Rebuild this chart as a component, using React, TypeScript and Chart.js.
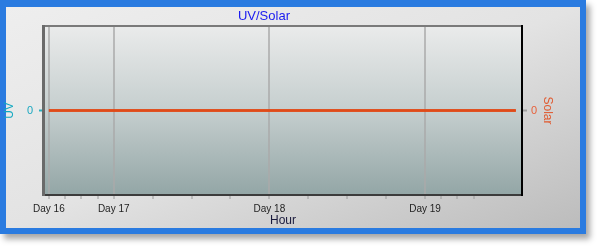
import React, { useEffect, useRef } from "react";
import { Chart, registerables } from "chart.js";

Chart.register(...registerables);

// Data (hours on a continuous time axis)
const chartTitle = "UV/Solar";
const dayTickHours = [14, 24, 48, 72];
const dayTickLabels = ["Day 16", "Day 17", "Day 18", "Day 19"];
const minorTickHours = [16.5, 19, 21.5, 30, 36, 42, 54, 60, 66, 74.5, 77, 79.5];
const sampleHours = [14, 24, 36, 48, 60, 72, 86];
const uvValues = [0, 0, 0, 0, 0, 0, 0];
const solarValues = [0, 0, 0, 0, 0, 0, 0];
const yTickValues = [0];

const FONT = "'Liberation Sans', Arial, sans-serif";

const plotPlugin = {
  id: "plotDecor",
  beforeDraw(chart: any) {
    const { ctx, chartArea: a } = chart;
    const g = ctx.createLinearGradient(0, a.top, 0, a.bottom);
    g.addColorStop(0, "#eaebeb");
    g.addColorStop(0.5, "#c5cece");
    g.addColorStop(1, "#93a6a6");
    ctx.save();
    ctx.fillStyle = g;
    ctx.fillRect(a.left, a.top, a.right - a.left, a.bottom - a.top);
    ctx.restore();
  },
  afterDraw(chart: any) {
    const { ctx, chartArea: a } = chart;
    ctx.save();
    ctx.lineWidth = 2;
    // top
    ctx.strokeStyle = "#7a7a7a";
    ctx.beginPath();
    ctx.moveTo(a.left - 2, a.top);
    ctx.lineTo(a.right + 2, a.top);
    ctx.stroke();
    // bottom
    ctx.strokeStyle = "#3c3c3c";
    ctx.beginPath();
    ctx.moveTo(a.left - 2, a.bottom);
    ctx.lineTo(a.right + 2, a.bottom);
    ctx.stroke();
    // left
    ctx.strokeStyle = "#6a6a6a";
    ctx.lineWidth = 3;
    ctx.beginPath();
    ctx.moveTo(a.left - 1.5, a.top - 1);
    ctx.lineTo(a.left - 1.5, a.bottom + 1);
    ctx.stroke();
    // right
    ctx.strokeStyle = "#000000";
    ctx.lineWidth = 2;
    ctx.beginPath();
    ctx.moveTo(a.right + 1, a.top - 1);
    ctx.lineTo(a.right + 1, a.bottom + 1);
    ctx.stroke();
    // title
    ctx.fillStyle = "#1a1af0";
    ctx.font = `13px ${FONT}`;
    ctx.textAlign = "center";
    ctx.textBaseline = "middle";
    ctx.fillText(chartTitle, a.left + (a.right - a.left) * 0.46, a.top - 10);
    ctx.restore();
  },
};

export default function App() {
  const ref = useRef<HTMLCanvasElement | null>(null);

  useEffect(() => {
    if (!ref.current) return;
    const chart = new Chart(ref.current, {
      type: "line",
      data: {
        datasets: [
          {
            label: "Solar",
            data: sampleHours.map((h, i) => ({ x: h, y: solarValues[i] })),
            yAxisID: "y2",
            borderColor: "#e04a18",
            borderWidth: 2.5,
            pointRadius: 0,
            order: 0,
          },
          {
            label: "UV",
            data: sampleHours.map((h, i) => ({ x: h, y: uvValues[i] })),
            yAxisID: "y",
            borderColor: "#e04a18",
            borderWidth: 2.5,
            pointRadius: 0,
            order: 1,
          },
        ],
      },
      options: {
        animation: false,
        responsive: false,
        devicePixelRatio: 1,
        layout: { padding: { left: 0, right: 0, top: 26, bottom: 18 } },
        plugins: {
          legend: { display: false },
          tooltip: { enabled: false },
          title: { display: false },
        },
        scales: {
          x: {
            type: "linear",
            position: "bottom",
            min: 13.4,
            max: 86.8,
            afterBuildTicks: (s: any) => {
              s.ticks = [...dayTickHours, ...minorTickHours]
                .sort((a, b) => a - b)
                .map((v) => ({ value: v }));
            },
            afterFit: (s: any) => {
              s.height = 33;
            },
            border: { display: false },
            grid: {
              color: (c: any) =>
                c.tick && dayTickHours.includes(c.tick.value)
                  ? "rgba(170,170,170,0.75)"
                  : "rgba(0,0,0,0)",
              lineWidth: 2,
              tickColor: "#9a9a9a",
              tickWidth: 1,
              tickLength: 4,
            },
            ticks: {
              autoSkip: false,
              maxRotation: 0,
              padding: 4,
              color: "#1e1e1e",
              font: { family: FONT, size: 10 },
              callback: (v: any) => {
                const i = dayTickHours.indexOf(Number(v));
                return i >= 0 ? dayTickLabels[i] : "";
              },
            },
            title: {
              display: true,
              text: "Hour",
              color: "#1a1a3c",
              font: { family: FONT, size: 12 },
              padding: { top: 0, bottom: 0 },
            },
          },
          y: {
            position: "left",
            min: -1,
            max: 1,
            afterBuildTicks: (s: any) => {
              s.ticks = yTickValues.map((v) => ({ value: v }));
            },
            afterFit: (s: any) => {
              s.width = 45;
            },
            border: { display: false },
            grid: {
              drawOnChartArea: false,
              tickColor: "#2ab0c0",
              tickLength: 6,
              tickWidth: 2,
            },
            ticks: {
              padding: 6,
              color: "#1aa8c0",
              font: { family: FONT, size: 11 },
            },
            title: {
              display: true,
              text: "UV",
              color: "#10a8c0",
              font: { family: FONT, size: 12 },
              padding: { top: 2, bottom: 0 },
            },
          },
          y2: {
            position: "right",
            min: -1,
            max: 1,
            afterBuildTicks: (s: any) => {
              s.ticks = yTickValues.map((v) => ({ value: v }));
            },
            afterFit: (s: any) => {
              s.width = 76;
            },
            border: { display: false },
            grid: {
              drawOnChartArea: false,
              tickColor: "#a0a0a0",
              tickLength: 6,
              tickWidth: 2,
            },
            ticks: {
              padding: 4,
              color: "#e8603a",
              font: { family: FONT, size: 11 },
            },
            title: {
              display: true,
              text: "Solar",
              color: "#e05a30",
              font: { family: FONT, size: 12 },
              padding: { top: 42, bottom: 0 },
            },
          },
        },
      },
      plugins: [plotPlugin],
    } as any);
    return () => chart.destroy();
  }, []);

  return (
    <div
      style={{
        position: "fixed",
        left: 0,
        top: 0,
        width: 597,
        height: 246,
        background: "#ffffff",
        overflow: "hidden",
      }}
    >
      <div
        style={{
          position: "absolute",
          left: 0,
          top: 0,
          width: 586,
          height: 234,
          boxSizing: "border-box",
          borderStyle: "solid",
          borderColor: "#2a7be0",
          borderWidth: "7px 6px 6px 6px",
          background:
            "linear-gradient(to bottom right, #eeeeee 0%, #e3e3e3 50%, #bcbcbc 100%)",
          boxShadow: "4px 5px 6px rgba(0,0,0,0.35)",
        }}
      />
      <canvas
        ref={ref}
        width={597}
        height={246}
        style={{ position: "absolute", left: 0, top: 0, width: 597, height: 246 }}
      />
    </div>
  );
}
